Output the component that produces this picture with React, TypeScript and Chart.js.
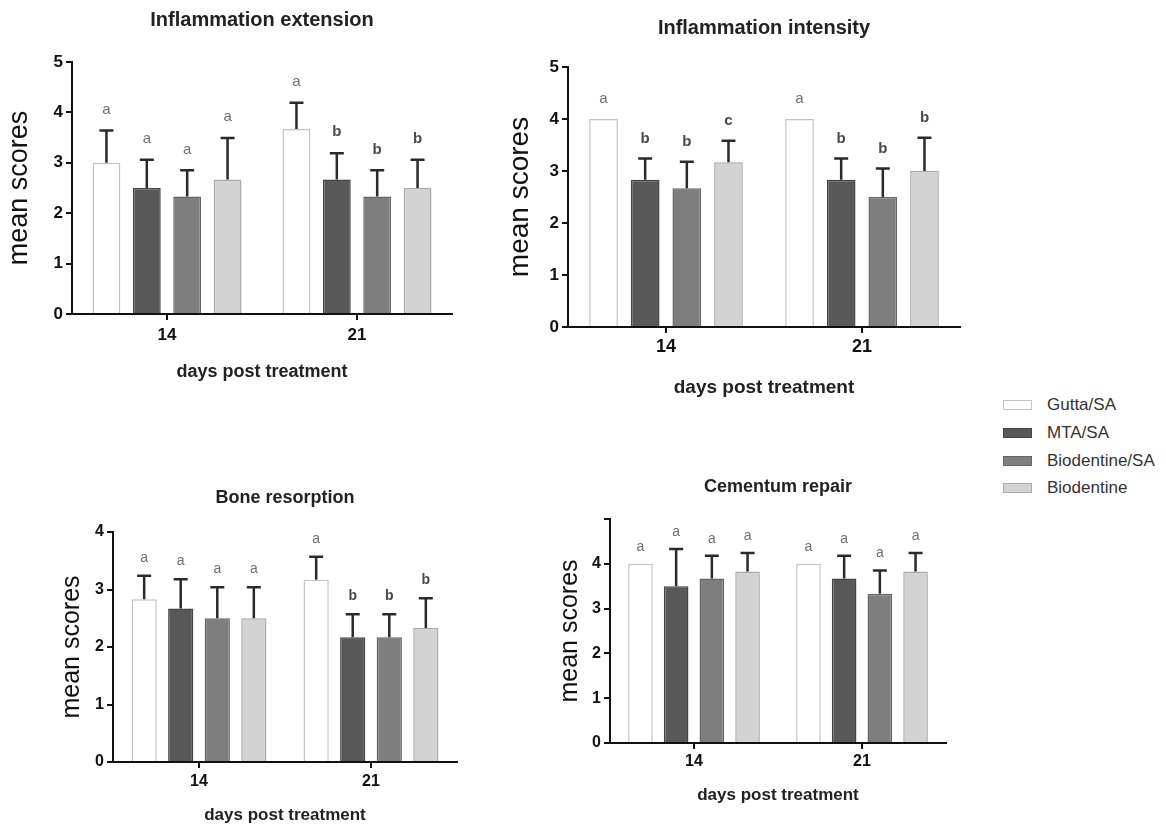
import React, { useEffect, useRef } from 'react';
import { Chart, registerables } from 'chart.js';

Chart.register(...registerables);

const FONT = "'Liberation Sans', Arial, Helvetica, sans-serif";

const days = ['14', '21'];
const groups = ['Gutta/SA', 'MTA/SA', 'Biodentine/SA', 'Biodentine'];
const fills = ['#ffffff', '#585858', '#7e7e7e', '#d3d3d3'];
const borders = ['#c4c4c4', '#454545', '#666666', '#ababab'];

// Inflammation extension
const extensionMean = [[3.0, 3.67], [2.5, 2.67], [2.33, 2.33], [2.67, 2.5]];
const extensionTop = [[3.64, 4.19], [3.06, 3.19], [2.85, 2.85], [3.49, 3.06]];
const extensionLetters = [['a', 'a'], ['a', 'b'], ['a', 'b'], ['a', 'b']];

// Inflammation intensity
const intensityMean = [[4.0, 4.0], [2.83, 2.83], [2.67, 2.5], [3.17, 3.0]];
const intensityTop = [[4.0, 4.0], [3.24, 3.24], [3.18, 3.05], [3.58, 3.64]];
const intensityLetters = [['a', 'a'], ['b', 'b'], ['b', 'b'], ['c', 'b']];

// Bone resorption
const boneMean = [[2.83, 3.17], [2.67, 2.17], [2.5, 2.17], [2.5, 2.33]];
const boneTop = [[3.24, 3.57], [3.18, 2.57], [3.04, 2.57], [3.04, 2.85]];
const boneLetters = [['a', 'a'], ['a', 'b'], ['a', 'b'], ['a', 'b']];

// Cementum repair
const cementumMean = [[4.0, 4.0], [3.5, 3.67], [3.67, 3.33], [3.83, 3.83]];
const cementumTop = [[4.0, 4.0], [4.33, 4.18], [4.18, 3.85], [4.24, 4.24]];
const cementumLetters = [['a', 'a'], ['a', 'a'], ['a', 'a'], ['a', 'a']];

type Cfg = {
  title: string;
  mean: number[][];
  top: number[][];
  letters: string[][];
  ymax: number;
  hideTop: boolean;
  canvas: { x: number; y: number; w: number; h: number };
  area: { l: number; r: number; t: number; b: number };
  titleY: number;
  titleSize: number;
  xTickY: number;
  xTickSize: number;
  xTitleY: number;
  xTitleSize: number;
  yTitleX: number;
  yTitleSize: number;
  yTickSize: number;
  letterGap: number;
  letterSize: number;
};

const panels: Cfg[] = [
  {
    title: 'Inflammation extension', mean: extensionMean, top: extensionTop, letters: extensionLetters,
    ymax: 5, hideTop: false,
    canvas: { x: 0, y: 0, w: 470, h: 400 }, area: { l: 72, r: 452, t: 62, b: 314 },
    titleY: 20, titleSize: 20, xTickY: 335, xTickSize: 17, xTitleY: 372, xTitleSize: 18,
    yTitleX: 20, yTitleSize: 27, yTickSize: 17, letterGap: 21, letterSize: 15,
  },
  {
    title: 'Inflammation intensity', mean: intensityMean, top: intensityTop, letters: intensityLetters,
    ymax: 5, hideTop: false,
    canvas: { x: 480, y: 0, w: 490, h: 410 }, area: { l: 568, r: 960, t: 67, b: 327 },
    titleY: 28, titleSize: 20, xTickY: 347, xTickSize: 18, xTitleY: 388, xTitleSize: 19,
    yTitleX: 520, yTitleSize: 28, yTickSize: 17, letterGap: 20, letterSize: 15,
  },
  {
    title: 'Bone resorption', mean: boneMean, top: boneTop, letters: boneLetters,
    ymax: 4, hideTop: false,
    canvas: { x: 0, y: 470, w: 470, h: 355 }, area: { l: 113, r: 457, t: 532, b: 762 },
    titleY: 498, titleSize: 18, xTickY: 782, xTickSize: 16, xTitleY: 815, xTitleSize: 17,
    yTitleX: 72, yTitleSize: 25, yTickSize: 16, letterGap: 18, letterSize: 14,
  },
  {
    title: 'Cementum repair', mean: cementumMean, top: cementumTop, letters: cementumLetters,
    ymax: 5, hideTop: true,
    canvas: { x: 480, y: 470, w: 480, h: 355 }, area: { l: 610, r: 946, t: 519, b: 743 },
    titleY: 487, titleSize: 18, xTickY: 762, xTickSize: 16, xTitleY: 795, xTitleSize: 17,
    yTitleX: 570, yTitleSize: 25, yTickSize: 16, letterGap: 17, letterSize: 14,
  },
];

function Panel({ cfg }: { cfg: Cfg }) {
  const ref = useRef<HTMLCanvasElement | null>(null);
  const c = cfg.canvas;
  useEffect(() => {
    const a = cfg.area;
    const tLh = cfg.titleSize * 1.2;
    const tTop = cfg.titleY - c.y - tLh / 2;
    const tBottom = a.t - c.y - tTop - tLh;
    const xTickLh = cfg.xTickSize * 1.2;
    const xTickPad = cfg.xTickY - a.b - 6 - xTickLh / 2;
    const xTitleLh = cfg.xTitleSize * 1.2;
    const xTitlePadBottom = c.y + c.h - cfg.xTitleY - xTitleLh / 2;
    const yTitleLh = cfg.yTitleSize * 1.2;
    const yTitlePadTop = cfg.yTitleX - c.x - yTitleLh / 2;

    const errPlugin = {
      id: 'errLetters',
      afterDatasetsDraw(chart: any) {
        const ctx = chart.ctx;
        const ys = chart.scales.y;
        chart.data.datasets.forEach((_ds: any, i: number) => {
          const meta = chart.getDatasetMeta(i);
          meta.data.forEach((bar: any, j: number) => {
            const topVal = cfg.top[i][j];
            const x = bar.x;
            const yMean = bar.y;
            let yText = yMean;
            if (topVal > cfg.mean[i][j] + 0.01) {
              const yTop = ys.getPixelForValue(topVal);
              ctx.save();
              ctx.strokeStyle = '#2a2a2a';
              ctx.lineWidth = 2.5;
              ctx.beginPath();
              ctx.moveTo(x, yMean);
              ctx.lineTo(x, yTop);
              ctx.moveTo(x - 7, yTop);
              ctx.lineTo(x + 7, yTop);
              ctx.stroke();
              ctx.restore();
              yText = yTop;
            }
            const letter = cfg.letters[i][j];
            ctx.save();
            ctx.fillStyle = letter === 'a' ? '#707070' : '#4a4a4a';
            ctx.font = `${letter === 'a' ? 'normal' : 'bold'} ${cfg.letterSize}px ${FONT}`;
            ctx.textAlign = 'center';
            ctx.textBaseline = 'middle';
            ctx.fillText(letter, x, yText - cfg.letterGap);
            ctx.restore();
          });
        });
      },
    };

    const chart = new Chart(ref.current as HTMLCanvasElement, {
      type: 'bar',
      data: {
        labels: days,
        datasets: groups.map((g, i) => ({
          label: g,
          data: cfg.mean[i],
          backgroundColor: fills[i],
          borderColor: borders[i],
          borderWidth: 1.5,
          categoryPercentage: 0.85,
          barPercentage: 0.69,
        })),
      },
      options: {
        responsive: false,
        animation: false,
        layout: { padding: { left: 0, top: 0, bottom: 0, right: c.x + c.w - a.r } },
        plugins: {
          legend: { display: false },
          tooltip: { enabled: false },
          title: {
            display: true,
            text: cfg.title,
            fullSize: false,
            color: '#222222',
            font: { family: FONT, size: cfg.titleSize, weight: 'bold' },
            padding: { top: tTop, bottom: tBottom },
          },
        },
        scales: {
          x: {
            type: 'category',
            offset: true,
            grid: { offset: false, drawOnChartArea: false, drawTicks: true, tickLength: 6, color: '#111111', lineWidth: 2 },
            border: { display: true, color: '#111111', width: 2 },
            ticks: { color: '#111111', font: { family: FONT, size: cfg.xTickSize, weight: 'bold' }, padding: xTickPad, maxRotation: 0 },
            title: {
              display: true,
              text: 'days post treatment',
              color: '#222222',
              font: { family: FONT, size: cfg.xTitleSize, weight: 'bold' },
              padding: { top: 0, bottom: xTitlePadBottom },
            },
            afterFit: (s: any) => { s.height = c.y + c.h - a.b; },
          },
          y: {
            min: 0,
            max: cfg.ymax,
            grid: { drawOnChartArea: false, drawTicks: true, tickLength: 6, color: '#111111', lineWidth: 2 },
            border: { display: true, color: '#111111', width: 2 },
            ticks: {
              stepSize: 1,
              color: '#111111',
              padding: 3,
              font: { family: FONT, size: cfg.yTickSize, weight: 'bold' },
              callback: (v: any) => (cfg.hideTop && Number(v) === cfg.ymax ? '' : String(v)),
            },
            title: {
              display: true,
              text: 'mean scores',
              color: '#111111',
              font: { family: FONT, size: cfg.yTitleSize, weight: 'normal' },
              padding: { top: yTitlePadTop, bottom: 0 },
            },
            afterFit: (s: any) => { s.width = a.l - c.x; },
          },
        },
      },
      plugins: [errPlugin],
    } as any);
    return () => chart.destroy();
  }, []);
  return (
    <canvas
      ref={ref}
      width={c.w}
      height={c.h}
      style={{ position: 'absolute', left: c.x, top: c.y, width: c.w, height: c.h }}
    />
  );
}

const legendY = [405, 433, 461, 488];

export default function App() {
  return (
    <div style={{ position: 'absolute', left: 0, top: 0, width: 1166, height: 825, background: '#ffffff', overflow: 'hidden' }}>
      {panels.map((p, i) => (
        <Panel key={i} cfg={p} />
      ))}
      {groups.map((g, i) => (
        <div key={g} style={{ position: 'absolute', left: 1003, top: legendY[i] - 12, height: 24, display: 'flex', alignItems: 'center' }}>
          <div style={{ width: 27, height: 8, background: fills[i], border: `1.5px solid ${borders[i]}` }} />
          <span style={{ marginLeft: 15, fontFamily: FONT, fontSize: 17, color: '#333333', whiteSpace: 'nowrap' }}>{g}</span>
        </div>
      ))}
    </div>
  );
}
